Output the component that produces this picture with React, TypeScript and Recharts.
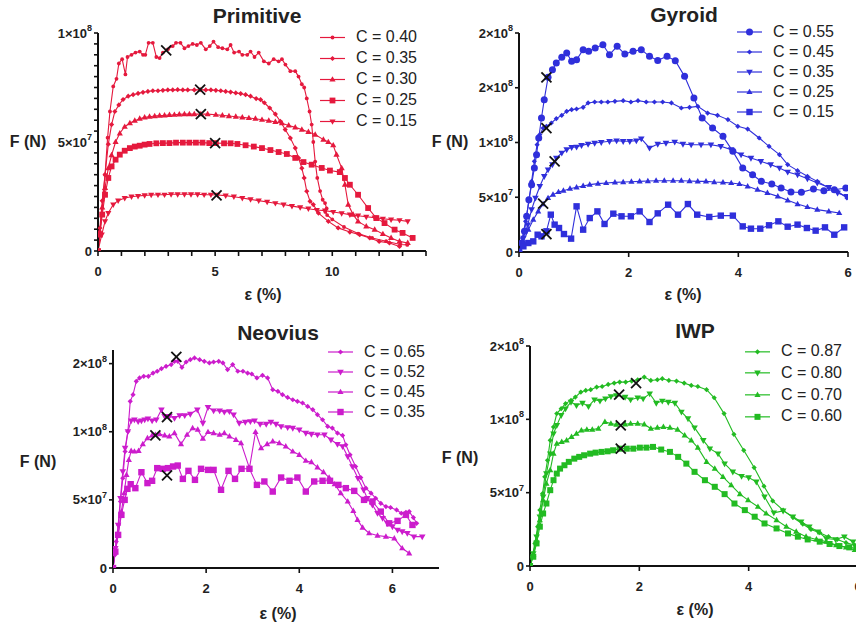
import { ComposedChart, Line, XAxis, YAxis, Legend } from "recharts";

type Pt = [number, number];
type Shape = "circle" | "dot" | "diamond" | "up" | "down" | "square";

const FONT = '"Liberation Sans", Arial, Helvetica, sans-serif';
// y values below are in units of 1e7 N
const SCALE = 1e7;

// ---------- Primitive ----------
const primitive040: Pt[] = [
  [0, 0], [0.16, 1.67], [0.3, 3.5], [0.41, 5.2], [0.51, 6.4], [0.65, 7.55], [0.79, 7.9], [0.89, 8.6],
  [1.03, 8.8], [1.17, 8.1], [1.26, 8.9], [1.43, 9.0], [1.6, 9.1], [1.78, 9.15], [1.92, 9.0], [2.02, 9.0],
  [2.16, 9.55], [2.34, 9.55], [2.49, 8.9], [2.63, 8.85], [2.77, 9.1], [2.98, 9.25], [3.19, 9.4], [3.33, 9.55],
  [3.52, 9.55], [3.69, 9.3], [3.86, 9.4], [4.04, 9.5], [4.22, 9.45], [4.39, 9.55], [4.6, 9.25], [4.77, 9.4],
  [4.93, 9.6], [5.13, 9.35], [5.31, 9.3], [5.52, 9.25], [5.66, 9.45], [5.81, 9.1], [6.02, 9.15], [6.16, 9.0],
  [6.37, 9.0], [6.51, 9.15], [6.68, 8.9], [6.86, 9.1], [7.08, 8.7], [7.29, 8.6], [7.5, 8.8], [7.71, 8.7],
  [7.85, 8.8], [8.0, 8.55], [8.21, 8.25], [8.42, 8.25], [8.56, 8.0], [8.7, 7.65], [8.8, 7.5], [8.91, 7.0],
  [9.03, 6.4], [9.12, 5.8], [9.19, 5.0], [9.27, 4.1], [9.36, 3.35], [9.48, 2.75], [9.59, 2.35], [9.69, 2.2],
  [9.76, 1.95], [9.7, 1.8], [9.78, 1.65], [10.0, 1.45], [10.5, 1.1], [11.1, 0.8], [11.7, 0.6], [12.3, 0.45],
  [12.9, 0.3], [13.2, 0.28],
];
const primitive035: Pt[] = [
  [0, 0], [0.08, 1.05], [0.18, 2.3], [0.3, 3.5], [0.44, 4.9], [0.58, 5.8], [0.72, 6.4], [0.89, 6.7],
  [1.07, 6.95], [1.29, 7.1], [1.5, 7.17], [1.71, 7.23], [1.92, 7.28], [2.13, 7.32], [2.34, 7.35], [2.56, 7.35],
  [2.77, 7.37], [2.98, 7.39], [3.19, 7.39], [3.4, 7.4], [3.62, 7.39], [3.83, 7.39], [4.11, 7.39], [4.36, 7.4],
  [4.6, 7.39], [4.82, 7.39], [5.03, 7.37], [5.24, 7.35], [5.45, 7.32], [5.66, 7.29], [5.88, 7.25], [6.09, 7.22],
  [6.3, 7.17], [6.51, 7.1], [6.75, 6.99], [6.94, 6.94], [7.1, 6.8], [7.33, 6.56], [7.57, 6.28], [7.78, 5.95],
  [7.99, 5.57], [8.21, 5.18], [8.42, 4.72], [8.56, 4.27], [8.7, 3.8], [8.8, 3.35], [8.91, 2.74], [9.05, 2.28],
  [9.19, 2.13], [9.41, 1.74], [9.83, 1.36], [10.25, 1.06], [10.75, 0.87], [11.17, 0.75], [11.6, 0.6],
  [12.0, 0.44], [12.44, 0.37], [12.87, 0.21],
];
const primitive030: Pt[] = [
  [0, 0], [0.08, 0.9], [0.18, 2.0], [0.3, 2.9], [0.44, 3.8], [0.58, 4.4], [0.75, 5.0], [0.93, 5.4],
  [1.14, 5.7], [1.36, 5.87], [1.57, 5.98], [1.78, 6.07], [1.99, 6.13], [2.2, 6.16], [2.42, 6.19], [2.63, 6.21],
  [2.84, 6.22], [3.05, 6.24], [3.26, 6.25], [3.47, 6.27], [3.69, 6.28], [3.9, 6.28], [4.11, 6.28], [4.39, 6.28],
  [4.68, 6.28], [5.03, 6.25], [5.31, 6.22], [5.59, 6.19], [5.88, 6.16], [6.16, 6.13], [6.44, 6.1], [6.72, 6.07],
  [7.0, 6.02], [7.29, 5.98], [7.57, 5.92], [7.85, 5.86], [8.14, 5.76], [8.42, 5.67], [8.7, 5.57], [8.98, 5.46],
  [9.27, 5.34], [9.62, 5.11], [9.83, 5.0], [10.04, 4.85], [10.18, 4.42], [10.4, 3.8], [10.54, 3.04],
  [10.68, 2.13], [10.89, 1.67], [11.1, 1.36], [11.45, 1.13], [11.81, 0.98], [12.16, 0.78], [12.51, 0.6],
  [12.87, 0.44], [13.22, 0.37],
];
const primitive025: Pt[] = [
  [0, 0], [0.08, 0.75], [0.18, 1.67], [0.3, 2.58], [0.44, 3.35], [0.58, 3.88], [0.75, 4.19], [0.93, 4.42],
  [1.14, 4.6], [1.36, 4.72], [1.57, 4.79], [1.78, 4.83], [1.99, 4.88], [2.2, 4.91], [2.49, 4.94], [2.77, 4.95],
  [3.05, 4.95], [3.33, 4.97], [3.62, 4.97], [3.9, 4.97], [4.18, 4.97], [4.46, 4.97], [4.75, 4.95], [5.03, 4.95],
  [5.38, 4.94], [5.66, 4.94], [5.95, 4.91], [6.3, 4.85], [6.65, 4.79], [7.0, 4.72], [7.36, 4.63], [7.71, 4.54],
  [8.06, 4.45], [8.42, 4.27], [8.77, 4.08], [9.12, 3.96], [9.55, 3.81], [9.9, 3.69], [10.32, 3.62],
  [10.54, 3.35], [10.75, 3.04], [11.1, 2.58], [11.53, 1.97], [11.88, 1.51], [12.23, 1.28], [12.66, 0.98],
  [13.0, 0.83], [13.43, 0.6],
];
const primitive015: Pt[] = [
  [0, 0], [0.16, 0.75], [0.3, 1.36], [0.44, 1.74], [0.65, 2.13], [0.86, 2.31], [1.14, 2.43], [1.43, 2.49],
  [1.71, 2.52], [1.99, 2.55], [2.27, 2.57], [2.56, 2.58], [2.84, 2.58], [3.12, 2.6], [3.4, 2.6], [3.69, 2.6],
  [3.97, 2.6], [4.25, 2.6], [4.53, 2.58], [4.82, 2.58], [5.1, 2.57], [5.45, 2.54], [5.8, 2.49], [6.16, 2.43],
  [6.51, 2.37], [6.86, 2.31], [7.22, 2.25], [7.57, 2.19], [7.92, 2.13], [8.28, 2.06], [8.63, 2.0], [8.98, 1.94],
  [9.34, 1.88], [9.69, 1.85], [10.04, 1.79], [10.4, 1.73], [10.75, 1.67], [11.1, 1.62], [11.45, 1.57],
  [11.81, 1.53], [12.16, 1.48], [12.51, 1.44], [12.87, 1.41], [13.22, 1.36],
];
const primitiveMarks: Pt[] = [[2.91, 9.2], [4.36, 7.4], [4.39, 6.28], [5.0, 4.95], [5.06, 2.55]];
const primitiveXTicks = [0, 1, 2, 3, 4, 5, 6, 7, 8, 9, 10, 11, 12, 13, 14];
const primitiveXMajor = [0, 5, 10];
const primitiveYTicks = [0, 0.5, 1, 1.5, 2, 2.5, 3, 3.5, 4, 4.5, 5, 5.5, 6, 6.5, 7, 7.5, 8, 8.5, 9, 9.5, 10];
const primitiveYMajor = [0, 5, 10];
const primitiveYLabels = ["0", "5×10^7", "1×10^8"];

// ---------- Gyroid ----------
const gyroid055: Pt[] = [
  [0, 0], [0.05, 0.82], [0.1, 1.89], [0.14, 3.26], [0.18, 4.78], [0.23, 6.15], [0.28, 7.67], [0.32, 8.89],
  [0.36, 10.41], [0.41, 12.24], [0.46, 13.91], [0.53, 15.95], [0.61, 16.65], [0.68, 17.26], [0.78, 17.78],
  [0.87, 18.17], [0.96, 17.41], [1.05, 17.56], [1.17, 18.48], [1.27, 18.33], [1.39, 18.63], [1.53, 18.93],
  [1.65, 18.02], [1.79, 18.78], [1.93, 18.08], [2.08, 18.33], [2.23, 18.48], [2.38, 17.87], [2.53, 17.5],
  [2.7, 17.87], [2.85, 17.47], [3.02, 16.04], [3.19, 14.06], [3.34, 12.24], [3.53, 11.32], [3.72, 10.56],
  [3.9, 9.19], [4.08, 7.67], [4.26, 7.06], [4.42, 6.45], [4.61, 6.21], [4.78, 5.84], [4.96, 5.48],
  [5.15, 5.45], [5.37, 5.75], [5.56, 5.6], [5.75, 5.69], [5.96, 5.84],
];
const gyroid045: Pt[] = [
  [0, 0], [0.06, 1.28], [0.12, 2.8], [0.18, 4.63], [0.23, 6.45], [0.28, 8.28], [0.33, 9.8], [0.38, 10.72],
  [0.44, 11.32], [0.5, 11.48], [0.59, 11.78], [0.68, 12.18], [0.78, 12.48], [0.87, 12.85], [0.96, 13.0],
  [1.05, 13.06], [1.17, 13.21], [1.26, 13.61], [1.38, 13.7], [1.5, 13.7], [1.62, 13.7], [1.75, 13.76],
  [1.9, 13.82], [2.04, 13.7], [2.17, 13.82], [2.32, 13.7], [2.47, 13.7], [2.62, 13.7], [2.78, 13.61],
  [2.96, 13.15], [3.11, 13.21], [3.26, 13.3], [3.44, 12.69], [3.62, 12.48], [3.81, 12.09], [3.99, 11.48],
  [4.17, 11.23], [4.38, 10.41], [4.56, 9.65], [4.75, 8.89], [4.9, 7.98], [5.08, 7.43], [5.26, 6.91],
  [5.44, 6.45], [5.65, 5.84], [5.81, 5.54], [5.98, 4.93],
];
const gyroid035: Pt[] = [
  [0, 0], [0.08, 1.28], [0.16, 2.5], [0.23, 3.87], [0.3, 4.93], [0.38, 6.0], [0.46, 6.91], [0.53, 7.52],
  [0.61, 7.98], [0.68, 8.58], [0.78, 9.04], [0.87, 9.35], [0.96, 9.56], [1.05, 9.59], [1.14, 9.74],
  [1.26, 9.86], [1.38, 9.95], [1.5, 10.02], [1.65, 10.11], [1.78, 10.17], [1.9, 10.11], [2.02, 10.11],
  [2.14, 10.17], [2.23, 10.35], [2.38, 9.5], [2.53, 9.86], [2.68, 9.95], [2.84, 10.05], [2.99, 9.86],
  [3.14, 9.8], [3.32, 9.8], [3.5, 9.8], [3.68, 9.65], [3.87, 9.35], [4.05, 8.89], [4.23, 8.58], [4.41, 8.28],
  [4.59, 7.98], [4.75, 7.67], [4.9, 7.31], [5.08, 7.06], [5.26, 6.7], [5.44, 6.3], [5.65, 5.91],
  [5.81, 5.39], [5.98, 5.08],
];
const gyroid025: Pt[] = [
  [0, 0], [0.08, 0.97], [0.17, 2.04], [0.26, 2.95], [0.35, 3.71], [0.44, 4.38], [0.53, 4.93], [0.62, 5.24],
  [0.72, 5.48], [0.81, 5.6], [0.93, 5.78], [1.05, 5.91], [1.17, 6.03], [1.29, 6.15], [1.44, 6.24],
  [1.59, 6.3], [1.75, 6.36], [1.9, 6.39], [2.05, 6.42], [2.2, 6.45], [2.35, 6.48], [2.5, 6.51], [2.65, 6.51],
  [2.81, 6.51], [2.96, 6.51], [3.11, 6.48], [3.26, 6.45], [3.41, 6.45], [3.56, 6.39], [3.72, 6.36],
  [3.87, 6.3], [4.02, 6.21], [4.17, 6.0], [4.35, 5.69], [4.53, 5.39], [4.72, 5.08], [4.9, 4.72], [5.08, 4.38],
  [5.26, 4.11], [5.44, 3.87], [5.65, 3.71], [5.84, 3.56],
];
const gyroid015: Pt[] = [
  [0, 0], [0.08, 0.52], [0.17, 0.82], [0.26, 0.97], [0.34, 1.58], [0.41, 1.43], [0.5, 1.89], [0.58, 3.41],
  [0.65, 2.5], [0.73, 2.19], [0.82, 1.64], [0.95, 1.22], [1.05, 4.17], [1.17, 2.04], [1.29, 3.1],
  [1.43, 3.71], [1.56, 2.56], [1.72, 3.5], [1.87, 3.26], [2.04, 3.26], [2.2, 3.71], [2.38, 2.74],
  [2.53, 3.53], [2.72, 4.32], [2.9, 3.41], [3.08, 4.38], [3.25, 3.41], [3.47, 3.2], [3.68, 3.32], [3.9, 3.32],
  [4.08, 2.34], [4.23, 2.13], [4.4, 2.13], [4.56, 2.44], [4.73, 2.8], [4.9, 2.31], [5.08, 2.5], [5.25, 2.19],
  [5.41, 1.95], [5.58, 2.25], [5.75, 1.58], [5.93, 2.25],
];
const gyroidMarks: Pt[] = [[0.5, 15.95], [0.5, 11.32], [0.65, 8.28], [0.44, 4.41], [0.5, 1.64]];
const gyroidXTicks = [0, 2, 4, 6];
const gyroidYTicks = [0, 5, 10, 15, 20];
const gyroidYLabels = ["0", "5×10^7", "1×10^8", "2×10^8", "2×10^8"];

// ---------- Neovius ----------
const neovius065: Pt[] = [
  [0, 0], [0.04, 0.96], [0.07, 1.94], [0.12, 3.16], [0.16, 4.88], [0.21, 6.59], [0.26, 8.55], [0.32, 10.02],
  [0.37, 12.23], [0.43, 12.72], [0.5, 13.7], [0.57, 13.95], [0.66, 14.07], [0.76, 14.07], [0.86, 14.31],
  [0.95, 14.44], [1.04, 14.63], [1.14, 14.8], [1.25, 14.93], [1.32, 15.17], [1.39, 15.17], [1.48, 14.73],
  [1.57, 15.12], [1.66, 15.29], [1.75, 15.42], [1.86, 15.29], [1.96, 15.17], [2.07, 15.05], [2.16, 15.12],
  [2.27, 15.17], [2.36, 15.05], [2.46, 14.56], [2.57, 14.93], [2.68, 14.44], [2.79, 14.44], [2.89, 14.31],
  [2.98, 14.24], [3.09, 13.95], [3.21, 14.14], [3.32, 13.95], [3.43, 13.09], [3.54, 12.97], [3.64, 12.72],
  [3.75, 12.52], [3.86, 12.35], [3.96, 12.23], [4.07, 12.11], [4.18, 11.86], [4.29, 11.62], [4.39, 11.25],
  [4.5, 10.88], [4.61, 10.39], [4.71, 10.27], [4.82, 9.9], [4.93, 9.73], [5.0, 9.04], [5.09, 8.31],
  [5.21, 7.45], [5.32, 6.64], [5.43, 5.86], [5.54, 5.49], [5.64, 5.12], [5.75, 4.75], [5.86, 4.51],
  [5.96, 4.44], [6.09, 4.26], [6.19, 4.02], [6.29, 4.09], [6.36, 4.14], [6.45, 3.7], [6.52, 3.28],
];
const neovius052: Pt[] = [
  [0, 0], [0.05, 1.45], [0.11, 3.16], [0.16, 5.12], [0.21, 7.08], [0.26, 8.8], [0.32, 10.02], [0.39, 10.81],
  [0.46, 10.88], [0.54, 10.76], [0.61, 10.81], [0.68, 10.88], [0.75, 10.96], [0.84, 10.81], [0.93, 10.88],
  [1.04, 11.62], [1.11, 11.13], [1.21, 11.13], [1.32, 11.0], [1.43, 11.2], [1.54, 11.2], [1.66, 11.3],
  [1.81, 11.62], [1.93, 10.64], [2.04, 11.79], [2.16, 11.54], [2.29, 11.54], [2.39, 11.45], [2.5, 11.49],
  [2.59, 11.25], [2.71, 10.64], [2.84, 10.71], [2.95, 10.76], [3.04, 10.81], [3.16, 10.56], [3.29, 10.56],
  [3.39, 10.71], [3.5, 10.56], [3.61, 10.39], [3.75, 10.32], [3.86, 10.27], [4.0, 10.15], [4.14, 9.9],
  [4.26, 9.83], [4.39, 9.78], [4.54, 9.78], [4.68, 9.41], [4.82, 9.09], [4.93, 8.92], [5.04, 8.19],
  [5.14, 7.45], [5.26, 6.59], [5.38, 5.74], [5.46, 5.12], [5.57, 4.63], [5.68, 4.02], [5.79, 3.65],
  [5.89, 3.28], [6.0, 3.04], [6.11, 2.79], [6.21, 2.67], [6.32, 2.55], [6.46, 2.3], [6.64, 2.3],
];
const neovius045: Pt[] = [
  [0, 0], [0.05, 1.2], [0.11, 2.43], [0.18, 4.14], [0.24, 5.49], [0.29, 6.84], [0.34, 7.94], [0.39, 8.6],
  [0.46, 8.55], [0.55, 8.6], [0.64, 9.09], [0.74, 9.53], [0.84, 9.73], [0.91, 9.78], [1.0, 9.83], [1.11, 9.73],
  [1.21, 9.66], [1.32, 9.9], [1.46, 9.09], [1.59, 9.78], [1.71, 10.27], [1.82, 10.15], [1.93, 9.49],
  [2.04, 9.98], [2.16, 9.9], [2.29, 9.78], [2.39, 9.9], [2.5, 9.66], [2.64, 9.41], [2.75, 9.17], [2.93, 7.33],
  [3.06, 9.98], [3.18, 8.8], [3.31, 9.09], [3.43, 9.29], [3.57, 9.17], [3.71, 8.92], [3.86, 8.55], [4.0, 8.31],
  [4.14, 7.87], [4.26, 7.77], [4.39, 7.38], [4.52, 7.03], [4.64, 6.64], [4.76, 6.15], [4.89, 5.49],
  [5.04, 4.88], [5.16, 4.19], [5.25, 3.53], [5.36, 2.97], [5.5, 2.55], [5.68, 2.38], [5.86, 2.3],
  [6.04, 2.18], [6.21, 1.45], [6.36, 1.08],
];
const neovius035: Pt[] = [
  [0, 0], [0.05, 1.2], [0.11, 2.43], [0.18, 3.9], [0.25, 5.0], [0.31, 5.81], [0.38, 6.15], [0.48, 5.86],
  [0.61, 7.03], [0.74, 6.23], [0.84, 6.4], [0.95, 7.33], [1.07, 7.28], [1.18, 7.33], [1.29, 7.45],
  [1.39, 7.52], [1.5, 6.54], [1.62, 7.13], [1.76, 6.47], [1.89, 7.28], [2.04, 7.2], [2.16, 7.2], [2.32, 5.74],
  [2.48, 7.13], [2.62, 6.54], [2.76, 7.28], [2.93, 7.28], [3.09, 6.1], [3.25, 6.35], [3.43, 5.61],
  [3.61, 6.64], [3.79, 6.4], [3.96, 6.64], [4.14, 5.61], [4.32, 6.35], [4.5, 6.4], [4.66, 6.4], [4.84, 6.1],
  [5.0, 5.86], [5.18, 5.66], [5.39, 5.0], [5.57, 4.88], [5.75, 4.14], [5.93, 3.28], [6.11, 3.46],
  [6.29, 3.9], [6.43, 3.16],
];
const neoviusMarks: Pt[] = [[1.36, 15.5], [1.16, 11.08], [0.91, 9.73], [1.16, 6.79]];
const neoviusXTicks = [0, 2, 4, 6];
const neoviusYTicks = [0, 5, 10, 15];
const neoviusYLabels = ["0", "5×10^7", "1×10^8", "2×10^8"];

// ---------- IWP ----------
const iwp087: Pt[] = [
  [0, 0], [0.04, 0.63], [0.09, 1.54], [0.14, 2.68], [0.18, 3.81], [0.23, 4.94], [0.27, 6.08], [0.32, 7.21],
  [0.37, 8.57], [0.43, 9.48], [0.49, 10.39], [0.57, 10.73], [0.65, 11.07], [0.75, 11.29], [0.83, 11.52],
  [0.93, 11.86], [1.02, 11.97], [1.11, 12.02], [1.22, 12.2], [1.32, 12.24], [1.43, 12.38], [1.54, 12.47],
  [1.64, 12.54], [1.75, 12.54], [1.86, 12.61], [1.97, 12.7], [2.09, 12.88], [2.21, 12.65], [2.33, 12.7],
  [2.42, 12.77], [2.54, 12.65], [2.68, 12.61], [2.82, 12.47], [2.95, 12.31], [3.07, 12.24], [3.23, 12.02],
  [3.37, 11.47], [3.55, 10.39], [3.73, 8.98], [3.91, 7.89], [4.1, 6.71], [4.28, 5.44], [4.44, 4.44],
  [4.63, 3.81], [4.81, 3.31], [4.99, 2.86], [5.14, 2.49], [5.3, 2.27], [5.46, 2.0], [5.62, 1.81],
  [5.78, 1.59], [5.94, 1.43],
];
const iwp080: Pt[] = [
  [0, 0], [0.06, 0.86], [0.12, 2.0], [0.18, 3.36], [0.24, 4.72], [0.3, 6.3], [0.37, 7.66], [0.43, 9.02],
  [0.49, 9.59], [0.57, 10.27], [0.65, 10.73], [0.75, 11.18], [0.85, 10.95], [0.96, 11.11], [1.07, 10.88],
  [1.18, 11.34], [1.28, 11.25], [1.38, 11.41], [1.48, 11.56], [1.58, 11.63], [1.74, 11.52], [1.84, 11.34],
  [1.97, 11.47], [2.07, 11.41], [2.19, 11.75], [2.31, 11.11], [2.42, 11.25], [2.53, 11.18], [2.65, 11.11],
  [2.77, 10.5], [2.89, 10.05], [3.01, 9.43], [3.17, 8.57], [3.29, 8.0], [3.44, 7.66], [3.56, 6.98],
  [3.71, 6.42], [3.87, 6.12], [4.0, 6.03], [4.14, 5.74], [4.29, 4.72], [4.46, 3.63], [4.63, 3.76],
  [4.81, 3.36], [4.96, 3.02], [5.11, 2.68], [5.27, 2.34], [5.42, 1.88], [5.59, 1.81], [5.75, 2.0], [5.91, 1.66],
];
const iwp070: Pt[] = [
  [0, 0], [0.06, 0.75], [0.12, 1.77], [0.18, 3.13], [0.24, 4.49], [0.3, 5.62], [0.37, 6.53], [0.43, 7.66],
  [0.49, 8.34], [0.58, 8.46], [0.67, 8.57], [0.76, 8.8], [0.85, 9.02], [0.94, 9.25], [1.04, 9.3], [1.14, 9.3],
  [1.25, 9.37], [1.37, 9.82], [1.48, 9.71], [1.58, 9.64], [1.74, 9.66], [1.84, 9.71], [1.97, 9.71],
  [2.09, 9.66], [2.21, 9.37], [2.33, 9.43], [2.44, 9.48], [2.56, 9.43], [2.7, 9.3], [2.83, 8.91], [2.95, 8.57],
  [3.07, 8.07], [3.23, 7.1], [3.38, 6.64], [3.53, 6.08], [3.68, 5.51], [3.84, 4.9], [3.99, 4.49], [4.17, 4.04],
  [4.32, 3.58], [4.51, 3.13], [4.69, 2.68], [4.87, 2.34], [5.05, 2.0], [5.24, 1.81], [5.42, 1.66], [5.6, 1.43],
  [5.78, 1.27], [5.94, 1.09],
];
const iwp060: Pt[] = [
  [0, 0], [0.06, 0.63], [0.12, 1.54], [0.18, 2.68], [0.24, 3.58], [0.3, 4.26], [0.37, 5.17], [0.43, 5.85],
  [0.49, 6.3], [0.55, 6.64], [0.63, 6.87], [0.71, 7.1], [0.81, 7.32], [0.9, 7.44], [0.99, 7.55], [1.1, 7.66],
  [1.2, 7.73], [1.31, 7.78], [1.42, 7.82], [1.52, 7.89], [1.64, 8.0], [1.77, 8.0], [1.89, 8.0], [2.01, 8.07],
  [2.13, 8.07], [2.25, 8.12], [2.4, 7.94], [2.56, 7.78], [2.71, 7.44], [2.86, 6.98], [3.01, 6.42], [3.2, 5.85],
  [3.38, 5.4], [3.56, 4.9], [3.74, 4.26], [3.93, 3.81], [4.11, 3.36], [4.29, 2.9], [4.51, 2.56], [4.72, 2.22],
  [4.9, 2.0], [5.08, 1.81], [5.3, 1.66], [5.48, 1.5], [5.66, 1.36], [5.84, 1.27], [5.97, 1.2],
];
const iwpMarks: Pt[] = [[1.94, 12.47], [1.63, 11.68], [1.66, 9.59], [1.66, 8.0]];
const iwpXTicks = [0, 2, 4, 6];
const iwpYTicks = [0, 5, 10, 15];
const iwpYLabels = ["0", "5×10^7", "1×10^8", "2×10^8"];

interface SeriesDef {
  name: string;
  pts: Pt[];
  shape: Shape;
  size: number;
}

interface PanelDef {
  title: string;
  color: string;
  series: SeriesDef[];
  marks: Pt[];
  left: number;
  top: number;
  width: number;
  height: number;
  margin: { top: number; right: number; left: number; bottom: number };
  yWidth: number;
  xHeight: number;
  xDomain: [number, number];
  xTicks: number[];
  xMajor: number[];
  yDomain: [number, number];
  yTicks: number[];
  yMajor: number[];
  yLabels: string[];
  legend: { left: number; top: number; row: number };
  titleAt: [number, number];
  yTitleAt: [number, number];
  xTitleAt: [number, number];
}

function drawShape(shape: Shape, cx: number, cy: number, s: number, color: string, key?: string) {
  if (cx == null || cy == null || isNaN(cx) || isNaN(cy)) return <g key={key} />;
  switch (shape) {
    case "circle":
    case "dot":
      return <circle key={key} cx={cx} cy={cy} r={s} fill={color} />;
    case "diamond":
      return (
        <polygon key={key} points={`${cx},${cy - s} ${cx + s},${cy} ${cx},${cy + s} ${cx - s},${cy}`} fill={color} />
      );
    case "square":
      return <rect key={key} x={cx - s} y={cy - s} width={s * 2} height={s * 2} fill={color} />;
    case "up":
      return (
        <polygon
          key={key}
          points={`${cx},${cy - s * 1.2} ${cx + s * 1.1},${cy + s * 0.75} ${cx - s * 1.1},${cy + s * 0.75}`}
          fill={color}
        />
      );
    case "down":
      return (
        <polygon
          key={key}
          points={`${cx},${cy + s * 1.2} ${cx + s * 1.1},${cy - s * 0.75} ${cx - s * 1.1},${cy - s * 0.75}`}
          fill={color}
        />
      );
  }
}

function TickText({ x, y, label, anchor }: { x: number; y: number; label: string; anchor: "end" | "middle" }) {
  const [base, exp] = label.split("^");
  return (
    <text
      x={x}
      y={y}
      textAnchor={anchor}
      dominantBaseline="central"
      fontSize={13}
      fontWeight="bold"
      fontFamily={FONT}
      fill="#222"
    >
      {base}
      {exp && (
        <tspan dy={-5} fontSize={9}>
          {exp}
        </tspan>
      )}
    </text>
  );
}

const near = (a: number, b: number) => Math.abs(a - b) < 1e-6 * Math.max(1, Math.abs(b));

function Panel({ p }: { p: PanelDef }) {
  const toData = (pts: Pt[]) => pts.map(([x, y]) => ({ x, y: y * SCALE }));
  const yTicks = p.yTicks.map((v) => v * SCALE);
  const yMajor = p.yMajor.map((v) => v * SCALE);
  const axisLine = { stroke: "#111", strokeWidth: 2 };

  const xTick = (props: any) => {
    const { x, y, payload } = props;
    const major = p.xMajor.some((m) => near(m, payload.value));
    return (
      <g>
        <line x1={x} x2={x} y1={y} y2={y + 5} stroke="#111" strokeWidth={1.6} />
        {major && (
          <text
            x={x}
            y={y + 20}
            textAnchor="middle"
            dominantBaseline="central"
            fontSize={13}
            fontWeight="bold"
            fontFamily={FONT}
            fill="#222"
          >
            {payload.value}
          </text>
        )}
      </g>
    );
  };

  const yTick = (props: any) => {
    const { x, y, payload } = props;
    const i = yMajor.findIndex((m) => near(m, payload.value));
    return (
      <g>
        <line x1={x - 4} x2={x} y1={y} y2={y} stroke="#111" strokeWidth={1.6} />
        {i >= 0 && <TickText x={x - 6} y={y} label={p.yLabels[i]} anchor="end" />}
      </g>
    );
  };

  const cross = (props: any) => {
    const { cx, cy, index } = props;
    if (cx == null || cy == null) return <g key={`x-${index}`} />;
    const d = 5;
    return (
      <g key={`x-${index}`}>
        <line x1={cx - d} y1={cy - d} x2={cx + d} y2={cy + d} stroke="#111" strokeWidth={1.8} />
        <line x1={cx - d} y1={cy + d} x2={cx + d} y2={cy - d} stroke="#111" strokeWidth={1.8} />
      </g>
    );
  };

  const legendBox = () => (
    <div style={{ fontFamily: FONT, fontSize: 16, color: "#222" }}>
      {p.series.map((s) => (
        <div key={s.name} style={{ display: "flex", alignItems: "center", height: p.legend.row }}>
          <svg width={25} height={p.legend.row} style={{ display: "block" }}>
            <line x1={0} x2={25} y1={p.legend.row / 2} y2={p.legend.row / 2} stroke={p.color} strokeWidth={1.2} />
            {drawShape(s.shape, 12.5, p.legend.row / 2, s.size, p.color)}
          </svg>
          <span style={{ marginLeft: 11, whiteSpace: "nowrap" }}>{s.name}</span>
        </div>
      ))}
    </div>
  );

  const labelStyle = (at: [number, number], size: number): React.CSSProperties => ({
    position: "absolute",
    left: at[0],
    top: at[1],
    transform: "translate(-50%, -50%)",
    fontFamily: FONT,
    fontSize: size,
    fontWeight: "bold",
    color: "#222",
    whiteSpace: "nowrap",
    lineHeight: 1,
  });

  return (
    <div style={{ position: "absolute", left: p.left, top: p.top, width: p.width, height: p.height }}>
      <ComposedChart width={p.width} height={p.height} margin={p.margin}>
        <XAxis
          type="number"
          dataKey="x"
          domain={p.xDomain}
          ticks={p.xTicks}
          interval={0}
          height={p.xHeight}
          tickSize={0}
          tickMargin={0}
          axisLine={axisLine}
          tickLine={false}
          tick={xTick}
          allowDataOverflow
        />
        <YAxis
          type="number"
          domain={p.yDomain.map((v) => v * SCALE)}
          ticks={yTicks}
          interval={0}
          width={p.yWidth}
          tickSize={0}
          tickMargin={0}
          axisLine={axisLine}
          tickLine={false}
          tick={yTick}
          allowDataOverflow
        />
        {p.series.map((s) => (
          <Line
            key={s.name}
            name={s.name}
            data={toData(s.pts)}
            dataKey="y"
            type="linear"
            stroke={p.color}
            strokeWidth={1.1}
            dot={(d: any) => drawShape(s.shape, d.cx, d.cy, s.size, p.color, `${s.name}-${d.index}`)}
            activeDot={false}
            isAnimationActive={false}
          />
        ))}
        <Line
          name="peak"
          data={toData(p.marks)}
          dataKey="y"
          stroke="none"
          dot={cross}
          activeDot={false}
          legendType="none"
          isAnimationActive={false}
        />
        <Legend
          layout="vertical"
          align="center"
          verticalAlign="middle"
          wrapperStyle={{ left: p.legend.left, top: p.legend.top, width: "auto" }}
          content={legendBox}
        />
      </ComposedChart>
      <div style={labelStyle(p.titleAt, 21)}>{p.title}</div>
      <div style={labelStyle(p.yTitleAt, 16)}>F (N)</div>
      <div style={labelStyle(p.xTitleAt, 16)}>ε (%)</div>
    </div>
  );
}

const RED = "#e5193d";
const BLUE = "#2f2fdb";
const MAGENTA = "#cc1ccc";
const GREEN = "#22bb22";

const panels: PanelDef[] = [
  {
    title: "Primitive",
    color: RED,
    series: [
      { name: "C = 0.40", pts: primitive040, shape: "dot", size: 1.9 },
      { name: "C = 0.35", pts: primitive035, shape: "diamond", size: 2.6 },
      { name: "C = 0.30", pts: primitive030, shape: "up", size: 2.8 },
      { name: "C = 0.25", pts: primitive025, shape: "square", size: 2.9 },
      { name: "C = 0.15", pts: primitive015, shape: "down", size: 2.8 },
    ],
    marks: primitiveMarks,
    left: 0,
    top: 0,
    width: 432,
    height: 300,
    margin: { top: 33, right: 6, left: 0, bottom: 0 },
    yWidth: 98,
    xHeight: 49,
    xDomain: [0, 14],
    xTicks: primitiveXTicks,
    xMajor: primitiveXMajor,
    yDomain: [0, 10],
    yTicks: primitiveYTicks,
    yMajor: primitiveYMajor,
    yLabels: primitiveYLabels,
    legend: { left: 320, top: 26.5, row: 21 },
    titleAt: [257, 15],
    yTitleAt: [28, 142],
    xTitleAt: [263, 295],
  },
  {
    title: "Gyroid",
    color: BLUE,
    series: [
      { name: "C = 0.55", pts: gyroid055, shape: "circle", size: 3.5 },
      { name: "C = 0.45", pts: gyroid045, shape: "diamond", size: 2.6 },
      { name: "C = 0.35", pts: gyroid035, shape: "down", size: 3 },
      { name: "C = 0.25", pts: gyroid025, shape: "up", size: 2.8 },
      { name: "C = 0.15", pts: gyroid015, shape: "square", size: 3.2 },
    ],
    marks: gyroidMarks,
    left: 420,
    top: 0,
    width: 436,
    height: 300,
    margin: { top: 33, right: 8, left: 0, bottom: 0 },
    yWidth: 99,
    xHeight: 48,
    xDomain: [0, 6],
    xTicks: gyroidXTicks,
    xMajor: gyroidXTicks,
    yDomain: [0, 20],
    yTicks: gyroidYTicks,
    yMajor: gyroidYTicks,
    yLabels: gyroidYLabels,
    legend: { left: 317, top: 22, row: 20 },
    titleAt: [264, 14],
    yTitleAt: [30, 142],
    xTitleAt: [263, 295],
  },
  {
    title: "Neovius",
    color: MAGENTA,
    series: [
      { name: "C = 0.65", pts: neovius065, shape: "diamond", size: 2.6 },
      { name: "C = 0.52", pts: neovius052, shape: "down", size: 3 },
      { name: "C = 0.45", pts: neovius045, shape: "up", size: 2.8 },
      { name: "C = 0.35", pts: neovius035, shape: "square", size: 3.2 },
    ],
    marks: neoviusMarks,
    left: 0,
    top: 300,
    width: 445,
    height: 325,
    margin: { top: 50, right: 6, left: 0, bottom: 0 },
    yWidth: 113,
    xHeight: 57,
    xDomain: [0, 7],
    xTicks: neoviusXTicks,
    xMajor: neoviusXTicks,
    yDomain: [0, 16],
    yTicks: neoviusYTicks,
    yMajor: neoviusYTicks,
    yLabels: neoviusYLabels,
    legend: { left: 328, top: 42, row: 20 },
    titleAt: [278, 32],
    yTitleAt: [38, 162],
    xTitleAt: [278, 314],
  },
  {
    title: "IWP",
    color: GREEN,
    series: [
      { name: "C = 0.87", pts: iwp087, shape: "diamond", size: 2.6 },
      { name: "C = 0.80", pts: iwp080, shape: "down", size: 3 },
      { name: "C = 0.70", pts: iwp070, shape: "up", size: 2.8 },
      { name: "C = 0.60", pts: iwp060, shape: "square", size: 3 },
    ],
    marks: iwpMarks,
    left: 420,
    top: 300,
    width: 445,
    height: 325,
    margin: { top: 46, right: 7, left: 0, bottom: 0 },
    yWidth: 110,
    xHeight: 59,
    xDomain: [0, 6],
    xTicks: iwpXTicks,
    xMajor: iwpXTicks,
    yDomain: [0, 15],
    yTicks: iwpYTicks,
    yMajor: iwpYTicks,
    yLabels: iwpYLabels,
    legend: { left: 325, top: 40.5, row: 21.7 },
    titleAt: [275, 30],
    yTitleAt: [40, 158],
    xTitleAt: [275, 310],
  },
];

export default function App() {
  return (
    <div
      style={{
        position: "absolute",
        left: 0,
        top: 0,
        width: 856,
        height: 625,
        overflow: "hidden",
        background: "#fff",
      }}
    >
      {panels.map((p) => (
        <Panel key={p.title} p={p} />
      ))}
    </div>
  );
}
